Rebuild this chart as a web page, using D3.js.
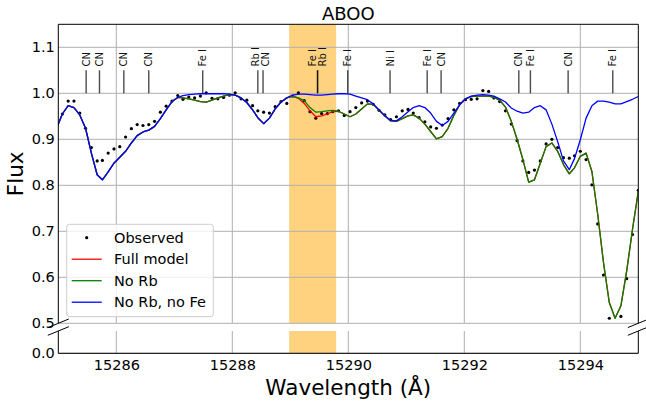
<!DOCTYPE html>
<html>
<head>
<meta charset="utf-8">
<script src="https://cdn.jsdelivr.net/npm/d3@7"></script>
<style>
  body { margin: 0; background: #fff; }
  svg { font-family: "DejaVu Sans", sans-serif; }
</style>
</head>
<body>
<div id="chart"></div>
<script>
// wavelength grid (Angstrom) shared by observation and models
const wavelength = [15284.97,
  15285.07, 15285.17, 15285.27, 15285.37, 15285.47, 15285.57, 15285.67, 15285.76, 15285.86, 15285.96,
  15286.06, 15286.16, 15286.26, 15286.36, 15286.46, 15286.56, 15286.66, 15286.76, 15286.86, 15286.96,
  15287.06, 15287.15, 15287.25, 15287.35, 15287.45, 15287.55, 15287.65, 15287.75, 15287.85, 15287.95,
  15288.05, 15288.15, 15288.25, 15288.35, 15288.44, 15288.54, 15288.64, 15288.74, 15288.84, 15288.94,
  15289.04, 15289.14, 15289.24, 15289.34, 15289.44, 15289.54, 15289.64, 15289.73, 15289.83, 15289.93,
  15290.03, 15290.13, 15290.23, 15290.33, 15290.43, 15290.53, 15290.63, 15290.73, 15290.83, 15290.93,
  15291.03, 15291.12, 15291.22, 15291.32, 15291.42, 15291.52, 15291.62, 15291.72, 15291.82, 15291.92,
  15292.02, 15292.12, 15292.22, 15292.32, 15292.42, 15292.51, 15292.61, 15292.71, 15292.81, 15292.91,
  15293.01, 15293.11, 15293.21, 15293.31, 15293.41, 15293.51, 15293.61, 15293.71, 15293.81, 15293.90,
  15294.00, 15294.10, 15294.20, 15294.30, 15294.40, 15294.50, 15294.60, 15294.70, 15294.80, 15294.90, 15295.00];

const observed = [null,
  0.955, 0.983, 0.983, 0.957, 0.924, 0.882, 0.853, 0.854, 0.870, 0.879,
  0.884, 0.905, 0.923, 0.932, 0.930, 0.932, 0.939, 0.959, 0.972, 0.983,
  0.995, 0.987, 0.992, 0.990, 0.994, 1.001, 0.989, 0.988, 0.991, 0.996,
  1.001, 0.988, 0.985, 0.973, 0.962, 0.959, 0.957, 0.971, 0.982, 0.978,
  0.994, 1.001, 0.984, 0.960, 0.946, 0.956, 0.956, 0.960, 0.962, 0.952,
  0.960, 0.969, 0.979, 0.983, 0.976, 0.963, 0.953, 0.943, 0.949, 0.962,
  0.965, 0.957, 0.947, 0.938, 0.927, 0.924, 0.931, 0.945, 0.964, 0.978,
  0.986, 0.987, 0.988, 1.006, 1.004, 0.990, 0.982, 0.962, 0.933, 0.897,
  0.853, 0.828, 0.833, 0.853, 0.890, 0.900, 0.882, 0.860, 0.859, 0.864,
  0.874, 0.856, 0.801, 0.716, 0.605, 0.511, null, 0.515, 0.597, 0.693, 0.789];

const fullModel = [0.924,
  0.955, 0.973, 0.969, 0.953, 0.924, 0.870, 0.823, 0.812, 0.829, 0.848,
  0.861, 0.874, 0.892, 0.908, 0.916, 0.920, 0.928, 0.945, 0.964, 0.982,
  0.991, 0.990, 0.988, 0.985, 0.982, 0.981, 0.985, 0.990, 0.994, 0.997,
  0.996, 0.990, 0.980, 0.964, 0.947, 0.934, 0.946, 0.966, 0.981, 0.990,
  0.994, 0.989, 0.978, 0.962, 0.949, 0.951, 0.955, 0.960, 0.961, 0.955,
  0.949, 0.955, 0.966, 0.977, 0.976, 0.963, 0.951, 0.940, 0.939, 0.945,
  0.951, 0.953, 0.946, 0.933, 0.917, 0.901, 0.906, 0.924, 0.952, 0.975,
  0.988, 0.993, 0.994, 0.994, 0.994, 0.991, 0.985, 0.970, 0.939, 0.900,
  0.856, 0.807, 0.812, 0.848, 0.884, 0.892, 0.874, 0.845, 0.825, 0.838,
  0.863, 0.870, 0.830, 0.737, 0.632, 0.545, 0.511, 0.538, 0.614, 0.704, 0.787];

const noRb = [0.924,
  0.955, 0.973, 0.969, 0.953, 0.924, 0.870, 0.823, 0.812, 0.829, 0.848,
  0.861, 0.874, 0.892, 0.908, 0.916, 0.920, 0.928, 0.945, 0.964, 0.982,
  0.991, 0.990, 0.988, 0.985, 0.982, 0.981, 0.985, 0.990, 0.994, 0.997,
  0.996, 0.990, 0.980, 0.964, 0.947, 0.934, 0.946, 0.966, 0.981, 0.990,
  0.994, 0.990, 0.984, 0.969, 0.959, 0.960, 0.962, 0.963, 0.961, 0.955,
  0.949, 0.955, 0.966, 0.977, 0.976, 0.963, 0.951, 0.940, 0.939, 0.945,
  0.951, 0.953, 0.946, 0.933, 0.917, 0.901, 0.906, 0.924, 0.952, 0.975,
  0.988, 0.993, 0.994, 0.994, 0.994, 0.991, 0.985, 0.970, 0.939, 0.900,
  0.856, 0.807, 0.812, 0.848, 0.884, 0.892, 0.874, 0.845, 0.825, 0.838,
  0.863, 0.870, 0.830, 0.737, 0.632, 0.545, 0.511, 0.538, 0.614, 0.704, 0.787];

const noRbNoFe = [0.924,
  0.955, 0.973, 0.969, 0.953, 0.924, 0.870, 0.823, 0.812, 0.829, 0.848,
  0.861, 0.874, 0.892, 0.908, 0.916, 0.920, 0.928, 0.945, 0.964, 0.982,
  0.991, 0.995, 0.997, 0.998, 0.999, 0.999, 0.999, 0.999, 0.999, 0.998,
  0.996, 0.990, 0.980, 0.964, 0.947, 0.934, 0.946, 0.966, 0.981, 0.990,
  0.996, 0.998, 0.998, 0.997, 0.996, 0.996, 0.997, 0.998, 0.999, 0.999,
  0.998, 0.994, 0.990, 0.986, 0.977, 0.964, 0.951, 0.941, 0.940, 0.949,
  0.960, 0.969, 0.973, 0.969, 0.957, 0.939, 0.930, 0.939, 0.957, 0.975,
  0.988, 0.994, 0.996, 0.997, 0.996, 0.994, 0.988, 0.981, 0.968, 0.961,
  0.957, 0.959, 0.969, 0.973, 0.964, 0.933, 0.895, 0.853, 0.834, 0.858,
  0.899, 0.946, 0.973, 0.983, 0.983, 0.981, 0.977, 0.977, 0.982, 0.987, 0.993];

// identified lines
const lineWave = [15285.48, 15285.71, 15286.13, 15286.56, 15287.49, 15288.44, 15288.53, 15289.47, 15289.47,
  15289.99, 15290.72, 15291.36, 15291.60, 15292.94, 15293.14, 15293.79, 15294.56];
const lineName = ['CN', 'CN', 'CN', 'CN', 'Fe I', 'Rb I', 'CN', 'Fe I', 'Rb I',
  'Fe I', 'Ni I', 'Fe I', 'CN', 'CN', 'Fe I', 'CN', 'Fe I'];

const rbWindow = [15288.98, 15289.79];
const xTicks = [15286, 15288, 15290, 15292, 15294];
const yTicksUpper = [0.5, 0.6, 0.7, 0.8, 0.9, 1.0, 1.1];
const yTicksLower = [0.0];

const width = 646;
const height = 402;
const left = 58.3, right = 638.3;
const upTop = 24.3, upBottom = 323.3;
const lowTop = 331, lowBottom = 353.3;

const svg = d3.select('#chart').append('svg')
  .attr('width', width)
  .attr('height', height);

const x = d3.scaleLinear().domain([15285, 15295]).range([left, right]);
const yUp = d3.scaleLinear().domain([0.5, 1.15]).range([upBottom, upTop]);
const yLow = d3.scaleLinear().domain([0, 0.05]).range([lowBottom, lowTop]);

const series = [
  {name: 'Full model', values: fullModel, color: '#ff0000'},
  {name: 'No Rb', values: noRb, color: '#008000'},
  {name: 'No Rb, no Fe', values: noRbNoFe, color: '#0000ff'}
];

function panel(id, y, yTicks, top, bottom) {
  const defs = svg.append('defs');
  defs.append('clipPath').attr('id', id)
    .append('rect')
    .attr('x', left).attr('y', top)
    .attr('width', right - left).attr('height', bottom - top);

  const g = svg.append('g');

  // Rb window
  g.append('rect')
    .attr('x', x(rbWindow[0]))
    .attr('y', top)
    .attr('width', x(rbWindow[1]) - x(rbWindow[0]))
    .attr('height', bottom - top)
    .attr('fill', '#ffa500')
    .attr('fill-opacity', 0.5);

  // grid
  g.selectAll('.vgrid').data(xTicks).enter().append('line')
    .attr('x1', d => x(d)).attr('x2', d => x(d))
    .attr('y1', top).attr('y2', bottom)
    .attr('stroke', '#b0b0b0').attr('stroke-width', 1);
  g.selectAll('.hgrid').data(yTicks).enter().append('line')
    .attr('x1', left).attr('x2', right)
    .attr('y1', d => y(d)).attr('y2', d => y(d))
    .attr('stroke', '#b0b0b0').attr('stroke-width', 1);

  const data = g.append('g').attr('clip-path', `url(#${id})`);

  data.selectAll('circle')
    .data(wavelength.map((w, i) => ({w, f: observed[i]})).filter(d => d.f !== null))
    .enter().append('circle')
    .attr('cx', d => x(d.w))
    .attr('cy', d => y(d.f))
    .attr('r', 1.6)
    .attr('fill', '#000');

  const line = d3.line()
    .defined(d => d.f !== null)
    .x(d => x(d.w))
    .y(d => y(d.f));

  series.forEach(s => {
    data.append('path')
      .datum(wavelength.map((w, i) => ({w, f: s.values[i]})))
      .attr('d', line)
      .attr('fill', 'none')
      .attr('stroke', s.color)
      .attr('stroke-width', 1.3)
      .attr('stroke-linejoin', 'round');
  });

  // y tick labels
  const yAxis = d3.axisLeft(y)
    .tickValues(yTicks)
    .tickSize(0)
    .tickPadding(3.5)
    .tickFormat(d3.format('.1f'));
  const yAxisG = g.append('g')
    .attr('transform', `translate(${left},0)`)
    .call(yAxis);
  yAxisG.select('.domain').remove();
  yAxisG.selectAll('text')
    .attr('font-size', 14.5)
    .attr('font-family', 'DejaVu Sans')
    .attr('fill', '#000');
  return g;
}

const upper = panel('clipUp', yUp, yTicksUpper, upTop, upBottom);
const lower = panel('clipLow', yLow, yTicksLower, lowTop, lowBottom);

// spines
const spine = (x1, y1, x2, y2) => svg.append('line')
  .attr('x1', x1).attr('y1', y1).attr('x2', x2).attr('y2', y2)
  .attr('stroke', '#000').attr('stroke-width', 1);
spine(left, upTop, right, upTop);
spine(left, upTop, left, upBottom);
spine(right, upTop, right, upBottom);
spine(left, lowTop, left, lowBottom);
spine(right, lowTop, right, lowBottom);
spine(left, lowBottom, right, lowBottom);

// break marks
[left, right].forEach(px => {
  [upBottom, lowTop].forEach(py => {
    spine(px - 10.5, py + 4.3, px + 10.5, py - 4.3);
  });
});

// x tick labels
const xAxis = d3.axisBottom(x)
  .tickValues(xTicks)
  .tickSize(0)
  .tickPadding(6.4)
  .tickFormat(d3.format('d'));
const xAxisG = svg.append('g')
  .attr('transform', `translate(0,${lowBottom})`)
  .call(xAxis);
xAxisG.select('.domain').remove();
xAxisG.selectAll('text')
  .attr('font-size', 14.5)
  .attr('font-family', 'DejaVu Sans')
  .attr('fill', '#000');

// axis labels and title
svg.append('text')
  .attr('x', (left + right) / 2)
  .attr('y', 395)
  .attr('text-anchor', 'middle')
  .attr('font-size', 21.5)
  .text('Wavelength (Å)');

svg.append('text')
  .attr('transform', `translate(23.3,${(upTop + upBottom) / 2}) rotate(-90)`)
  .attr('text-anchor', 'middle')
  .attr('font-size', 21.5)
  .text('Flux');

svg.append('text')
  .attr('x', (left + right) / 2)
  .attr('y', 20)
  .attr('text-anchor', 'middle')
  .attr('font-size', 18)
  .text('ABOO');

// line identifications, labels of near-coincident lines spread apart
const labelX = lineWave.map(w => x(w));
let groups = [];
lineWave.forEach((w, i) => {
  const last = groups[groups.length - 1];
  if (last && w - lineWave[last[last.length - 1]] < 0.12) last.push(i);
  else groups.push([i]);
});
groups.forEach(grp => {
  const mean = d3.mean(grp, i => x(lineWave[i]));
  grp.forEach((i, k) => { labelX[i] = mean + (k - (grp.length - 1) / 2) * 10; });
});

const ids = svg.append('g');
ids.selectAll('line').data(lineWave).enter().append('line')
  .attr('x1', d => x(d)).attr('x2', d => x(d))
  .attr('y1', yUp(1.0)).attr('y2', yUp(1.05))
  .attr('stroke', '#000')
  .attr('stroke-opacity', 0.7)
  .attr('stroke-width', 1.4);
ids.selectAll('text').data(lineName).enter().append('text')
  .attr('transform', (d, i) => `translate(${labelX[i]},66.5) rotate(-90)`)
  .attr('dominant-baseline', 'central')
  .attr('font-size', 10)
  .attr('fill', '#111')
  .text(d => d);

// legend
const legend = svg.append('g');
legend.append('rect')
  .attr('x', 66.7).attr('y', 224.3)
  .attr('width', 146.6).attr('height', 92.4)
  .attr('rx', 3)
  .attr('fill', '#fff').attr('fill-opacity', 0.8)
  .attr('stroke', '#cccccc').attr('stroke-width', 1);
const rowY = [237.7, 259.2, 280.7, 302.2];
legend.append('circle')
  .attr('cx', 86.7).attr('cy', rowY[0]).attr('r', 1.6).attr('fill', '#000');
series.forEach((s, i) => {
  legend.append('line')
    .attr('x1', 71.7).attr('x2', 101.7)
    .attr('y1', rowY[i + 1]).attr('y2', rowY[i + 1])
    .attr('stroke', s.color).attr('stroke-width', 1.3);
});
['Observed'].concat(series.map(s => s.name)).forEach((name, i) => {
  legend.append('text')
    .attr('x', 114).attr('y', rowY[i] + 5.2)
    .attr('font-size', 14.5)
    .text(name);
});
</script>
</body>
</html>
